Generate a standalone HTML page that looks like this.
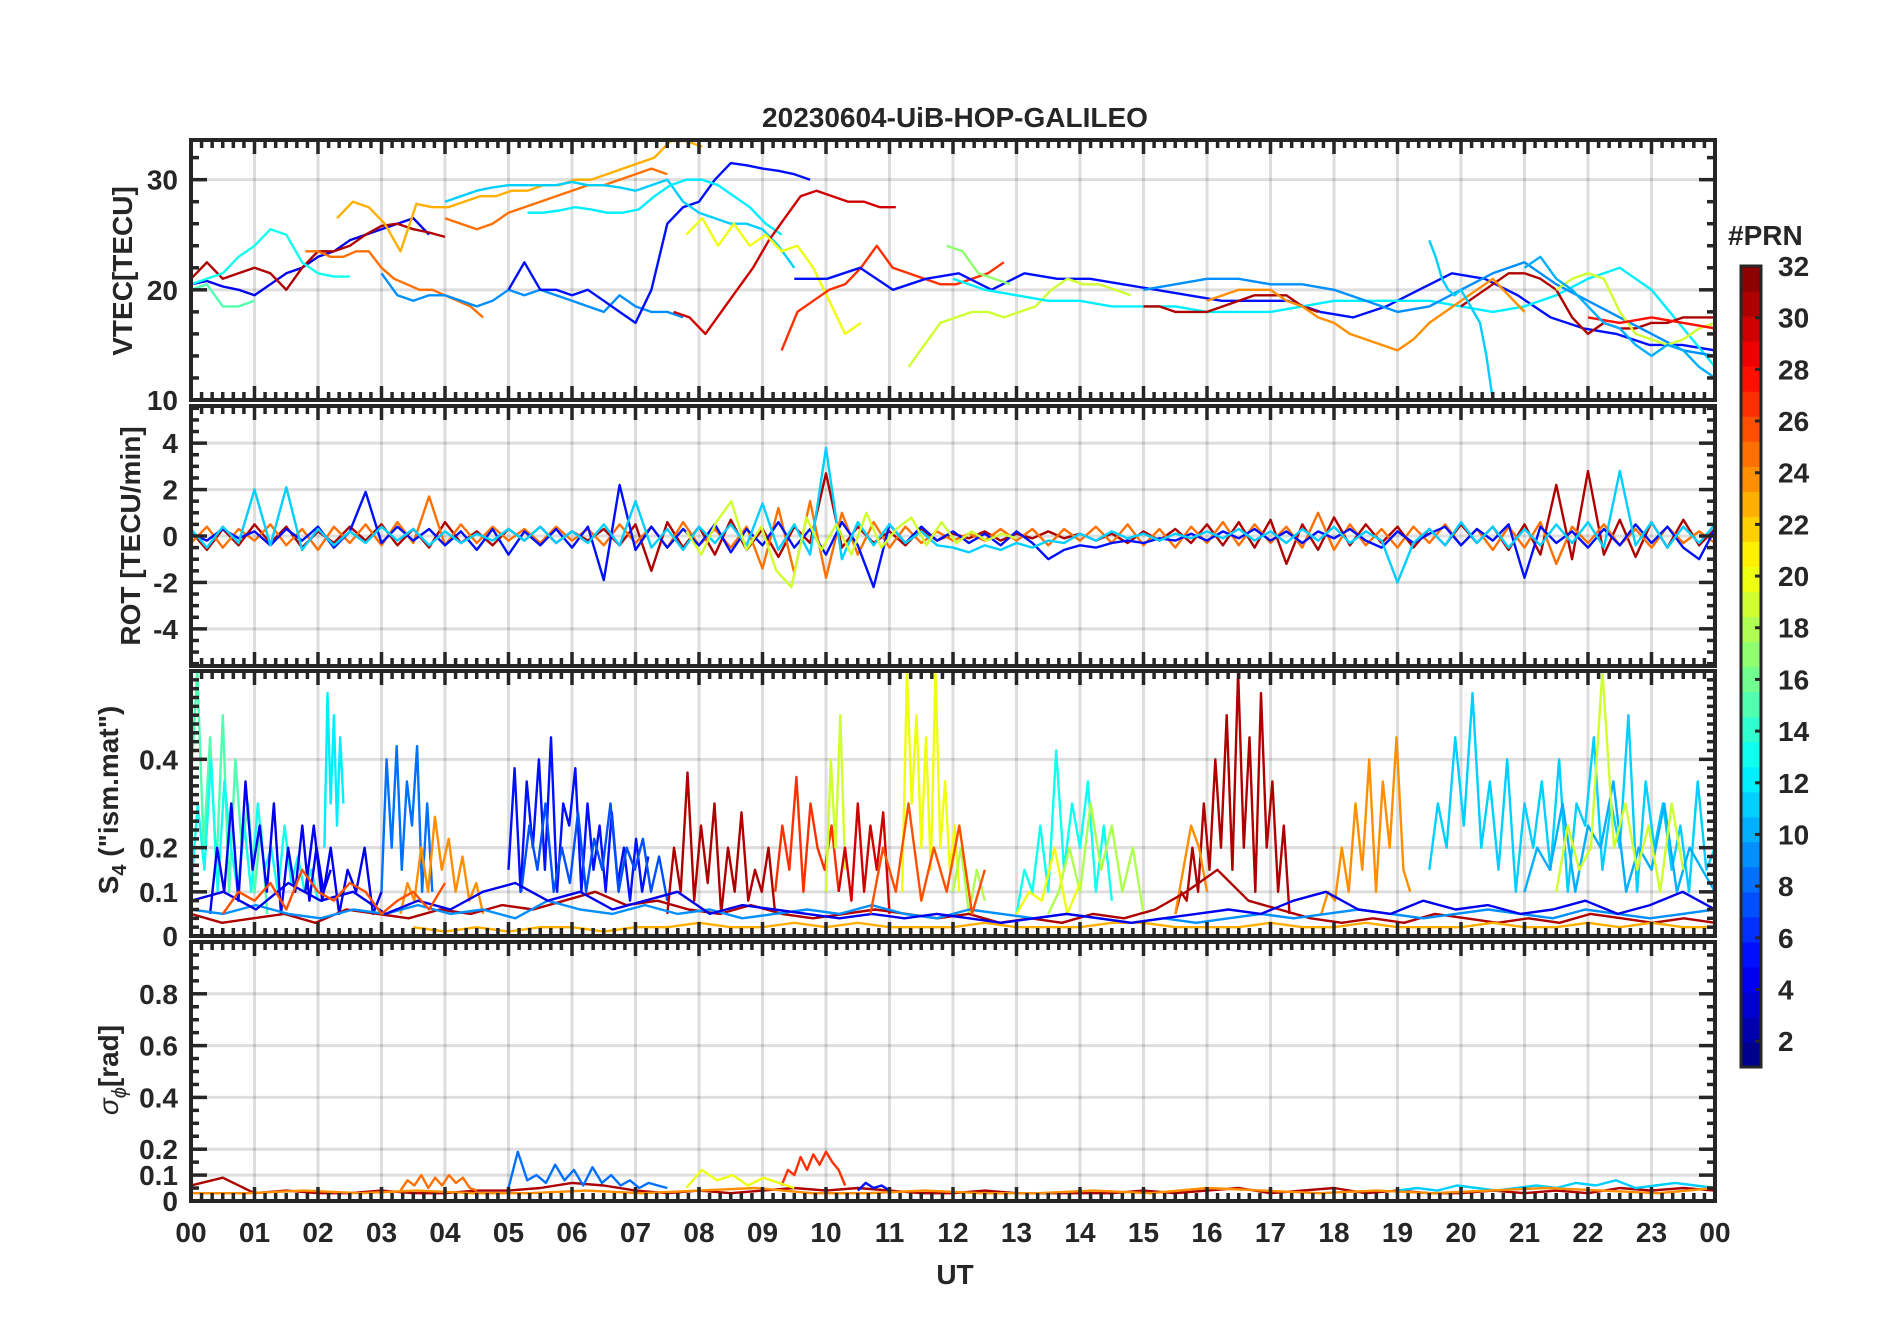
<!DOCTYPE html>
<html><head><meta charset="utf-8"><style>
html,body{margin:0;padding:0;background:#fff}
svg{display:block}
text{font-family:"Liberation Sans",sans-serif;font-weight:bold;fill:#262626}
</style></head><body>
<svg id="fig" width="1902" height="1330" viewBox="0 0 1902 1330" xmlns="http://www.w3.org/2000/svg">
<rect width="1902" height="1330" fill="#fff"/>
<text x="955" y="127" font-size="28" text-anchor="middle">20230604-UiB-HOP-GALILEO</text>
<text x="955" y="1284" font-size="28" text-anchor="middle">UT</text>
<text transform="translate(132,271) rotate(-90)" font-size="28" text-anchor="middle">VTEC[TECU]</text>
<text transform="translate(140,536) rotate(-90)" font-size="28" text-anchor="middle">ROT [TECU/min]</text>
<text transform="translate(118,800) rotate(-90)" font-size="28" text-anchor="middle">S<tspan font-size="20" dy="8">4</tspan><tspan dy="-8"> ("ism.mat")</tspan></text>
<text transform="translate(118,1070) rotate(-90)" font-size="28" text-anchor="middle"><tspan font-style="italic" font-weight="normal">σ</tspan><tspan font-size="20" dy="8" font-style="italic" font-weight="normal">ϕ</tspan><tspan dy="-8">[rad]</tspan></text>
<text x="1728" y="245" font-size="28">#PRN</text>
<g id="layer"></g>
</svg>
<script>
// ---------- axes geometry ----------
const L=191, R=1715;
const panels=[
 {name:'vtec',top:140,bot:400,min:10,max:33.6,labels:[10,20,30],minor:2},
 {name:'rot',top:406,bot:666,min:-5.6,max:5.6,labels:[-4,-2,0,2,4],minor:0.5},
 {name:'s4',top:671,bot:936,min:0,max:0.6,labels:[0,0.1,0.2,0.4],minor:0.02},
 {name:'sigma',top:942,bot:1201,min:0,max:1,labels:[0,0.1,0.2,0.4,0.6,0.8],minor:0.05}
];
const hourLabels=['00','01','02','03','04','05','06','07','08','09','10','11','12','13','14','15','16','17','18','19','20','21','22','23','00'];
const cbTicks=[2,4,6,8,10,12,14,16,18,20,22,24,26,28,30,32];

// ---------- VTEC data ----------
const vtecPrn=[4,31,13,15,23,25,25,9,5,11,12,30,20,27,5,19,17,12,31,31,24,9,19,11,28,10];
const vtecStart=[0,0,0,0,2.3,1.8,4,3,5,4,5.3,7.6,7.8,9.3,9.5,11.3,11.9,12,15,20,16,15,21.5,19.5,22,21];
const vtecEnd=[3.75,4.0,2.5,1.0,8.05,4.6,7.5,7.75,9.75,9.5,9.3,11.1,10.55,12.8,24,14.8,12.9,24,17.75,24,21,24,24.25,20.5,24,24];
const vtecVals=[
 [20.5,20.8,20.3,20,19.5,20.5,21.5,22,23,23.5,24.5,25,25.5,26,26.5,25],
 [21,22.5,21,21.5,22,21.5,20,22,23.5,23.5,24,25,25.8,26,25.5,25.2,24.8],
 [20.5,21,21.5,23,24,25.5,25,22.5,21.5,21.2,21.2],
 [20,20.5,18.5,18.5,19],
 [26.5,28,27.5,26,23.5,27.8,27.5,27.5,28,28.5,28.5,29,29,29.5,29.5,30,30,30.5,31,31.5,32,33.5,33.5,33],
 [23.5,23.5,23,23,23.5,23.5,22,21,20.5,20,20,19.5,19,18.5,17.5],
 [26.5,26,25.5,26,27,27.5,28,28.5,29,29.5,29.5,30,30.5,31,30.5],
 [21.5,19.5,19,19.5,19.5,19,18.5,19,20,19.5,20,19.5,19,18.5,18,19.5,18.5,18,18,17.5],
 [20,22.5,20,20,19.5,20,19,18,17,20,26,27.5,28,30,31.5,31.3,31,30.8,30.5,30],
 [28,28.5,29,29.3,29.5,29.5,29.5,29.5,29.8,29.5,29.5,29.3,29,29.5,30,28,27,26.5,26,26,25.5,24,22],
 [27,27,27.2,27.5,27.3,27,27,27.3,28.5,29.5,30,30,29.5,28.5,27.5,26,25],
 [18,17.5,16,18,20,22,24.5,26.5,28.5,29,28.5,28,28,27.5,27.5],
 [25,26.5,24,26,24,25,23.5,24,22,19,16,17],
 [14.5,18,19,20,20.5,22,24,22,21.5,21,20.5,20.5,21,21.5,22.5],
 [21,21,22,20,21,21.5,20,21.5,21,21,20.5,20,19.5,19,19,19,18,17.5,18.5,20,21.5,21,19.5,17.5,16.5,16,15,15,14.5],
 [13,15,17,17.5,18,18,17.5,18,18.5,20,21,20.5,20.5,20,19.5],
 [24,23.5,21.5,21,20.5],
 [21,20,19.5,19,19,18.5,18.5,18.5,18,18,18,18.5,19,19,19,19,18.5,18,18.5,19.5,21,22,20,16.5,13],
 [18.5,18.5,18,18,18,18.5,19,19.5,19.5,19.5,18.5,18],
 [18.5,19.5,20.5,21.5,21.5,21,20,17.5,16,17,16.5,16.5,17,17,17.5,17.5,17.5],
 [19,19.5,20,20,20,19,18.5,17.5,17,16,15.5,15,14.5,15.5,17,18,19,20,21,19.5,18],
 [20,20.5,21,21,20.5,20.5,20,19,18,18.5,20,21.5,22.5,20.5,19,17.5,16,14.5,14],
 [20,21,21.5,21,18,16,15.5,15,15.5,16.5,17,15.5],
 [24.5,23,21,20,19.5,20,19,18,17,14,10],
 [17.5,17,17.5,17,16.5],
 [22,23,21,20,18.5,17,16.5,15,14,15,14.5,13,12]
];

// ---------- ROT data ----------
const rotPrn=[31,25,5,11,19];
const rotStart=[0,0,0,0,7.8];
const rotEnd=[24,24,24,24,13];
const rotVals=[
 [0.2,-0.6,0.3,-0.4,0.5,-0.3,0.4,-0.5,0.2,-0.3,0.4,-0.2,0.5,-0.4,0.3,-0.5,0.6,-0.3,0.2,-0.4,0.3,-0.2,0.4,-0.3,0.2,-0.2,0.3,-0.4,0.5,-1.5,0.6,-0.5,0.4,-0.8,0.7,-0.6,0.3,-0.9,0.4,-0.3,2.7,-0.5,0.4,-0.3,0.2,-0.4,0.3,-0.2,0.1,-0.1,0.2,-0.2,0.1,-0.1,0.2,-0.1,0.1,-0.2,0.1,-0.3,0.2,-0.2,0.3,-0.3,0.5,-0.4,0.6,-0.5,0.7,-1.2,0.5,-0.6,0.8,-0.4,0.5,-0.3,0.4,-0.5,0.3,-0.4,0.5,-0.3,0.4,-0.6,0.5,-0.8,2.2,-1.0,2.8,-0.8,0.7,-0.9,0.6,-0.5,0.7,-0.4,0.3],
 [-0.3,0.4,-0.5,0.3,-0.2,0.5,-0.4,0.3,-0.6,0.4,-0.3,0.5,-0.4,0.6,-0.3,1.7,-0.4,0.5,-0.3,0.4,-0.2,0.3,-0.3,0.4,-0.2,0.3,-0.4,0.5,-0.3,0.4,-0.5,0.6,-0.4,0.3,-0.5,0.4,-1.4,1.2,-1.6,1.5,-1.8,1.0,-0.8,0.6,-0.5,0.4,-0.3,0.2,-0.2,0.1,-0.2,0.3,-0.2,0.3,-0.4,0.3,-0.2,0.4,-0.3,0.5,-0.4,0.3,-0.5,0.4,-0.3,0.6,-0.4,0.5,-0.3,0.4,-0.5,1.0,-0.6,0.5,-0.4,0.3,-0.5,0.4,-0.3,0.5,-0.4,0.3,-0.6,0.4,-0.5,0.6,-1.2,0.4,-0.3,0.5,-0.4,0.3,-0.5,0.4,-0.3,0.2,-0.3],
 [0.1,-0.2,0.3,-0.1,0.2,-0.4,0.3,-0.2,0.4,-0.5,0.2,1.9,-0.3,0.4,-0.2,0.3,-0.4,0.2,-0.6,0.3,-0.8,0.2,-0.4,0.3,-0.5,0.4,-1.9,2.2,-0.6,0.4,-0.5,0.3,-0.4,0.5,-0.7,0.3,-0.4,0.6,-0.5,0.3,-0.8,0.6,-0.4,-2.2,0.5,-0.3,0.4,-0.2,0.2,-0.3,0.1,-0.4,0.2,-0.3,-1.0,-0.6,-0.4,-0.5,-0.3,-0.2,-0.3,-0.1,-0.2,0.1,-0.2,0.2,-0.1,0.3,-0.2,0.2,-0.3,0.2,-0.1,0.3,-0.2,-0.5,0.2,-0.3,0.1,0.4,-0.4,0.3,-0.2,0.5,-1.8,0.4,-0.3,0.2,-0.5,0.3,-0.4,0.5,-0.3,0.4,-0.5,-1.0,0.3],
 [0.3,-0.5,0.4,-0.3,2.0,-0.4,2.1,-0.6,0.3,-0.4,0.2,-0.3,0.4,-0.2,0.3,-0.4,0.2,-0.3,0.1,-0.2,0.3,-0.2,0.4,-0.3,0.2,-0.3,0.5,-0.4,1.5,-0.5,0.3,-0.6,0.4,-0.3,0.5,-0.4,1.4,-0.6,0.5,-0.8,3.8,-1.0,0.6,-0.4,0.5,-0.3,0.2,-0.4,-0.5,-0.7,-0.4,-0.6,-0.3,-0.5,-0.2,-0.3,0.1,-0.2,0.2,-0.1,0.1,-0.2,0.1,-0.1,0.2,-0.1,0.3,-0.2,0.2,-0.3,0.3,-0.2,0.4,-0.3,0.2,-0.2,-2.0,-0.3,0.3,-0.4,0.6,-0.3,0.4,-0.5,0.3,-0.4,0.5,-0.3,0.6,-0.5,2.8,-0.4,0.6,-0.5,0.4,-0.3,0.5],
 [0.2,-0.8,0.6,1.5,-0.6,0.4,-1.5,-2.2,0.8,-0.6,0.5,-0.8,1.0,-0.5,0.3,0.8,-0.4,0.6,-0.3,0.2,-0.2,0.1,-0.1]
];

// ---------- S4 data ----------
const s4Prn=[15,13,4,12,4,8,24,5,7,31,27,19,30,20,18,13,18,20,31,24,24,11,10,19,31,23,9,4,26,26];
const s4Start=[0,0,0.3,2.1,1.8,3,3.3,5,5.2,7.5,9.2,10,10.2,11.2,12,13,13.5,13,15.5,15.5,17.8,19.5,21,21.5,0,3.5,0,0,0.5,10.7];
const s4End=[1.2,2,2.2,2.4,3,3.8,4.6,7.2,7.5,9.2,10.2,10.3,11,12.1,12.5,14.5,15,14,17.3,16,19.2,24,24,23.5,24,24,24,24,4,12.5];
const s4Vals=[
 [0.35,0.6,0.2,0.45,0.15,0.5,0.1,0.4,0.2,0.3,0.1,0.25,0.05],
 [0.1,0.3,0.15,0.4,0.1,0.35,0.2,0.1,0.25,0.1,0.3,0.15,0.2,0.1,0.25,0.12,0.18,0.1,0.15,0.08],
 [0.05,0.2,0.1,0.3,0.08,0.35,0.15,0.25,0.1,0.3,0.05,0.2,0.1,0.25,0.08,0.2,0.1,0.15],
 [0.2,0.55,0.3,0.5,0.25,0.45,0.3],
 [0.1,0.25,0.08,0.2,0.05,0.15,0.1,0.2,0.05,0.1],
 [0.1,0.4,0.2,0.43,0.15,0.35,0.25,0.43,0.1,0.3,0.1],
 [0.05,0.12,0.08,0.2,0.1,0.27,0.15,0.22,0.1,0.18,0.08,0.12,0.05],
 [0.15,0.38,0.1,0.35,0.2,0.4,0.15,0.45,0.1,0.3,0.25,0.38,0.1,0.3,0.15,0.25,0.1,0.28,0.12,0.2,0.08,0.22,0.1,0.18],
 [0.1,0.25,0.15,0.3,0.1,0.2,0.12,0.28,0.1,0.22,0.15,0.3,0.1,0.2,0.15,0.22,0.1,0.18,0.08],
 [0.05,0.2,0.1,0.37,0.08,0.25,0.12,0.3,0.05,0.2,0.1,0.28,0.08,0.15,0.1,0.2,0.05],
 [0.1,0.25,0.15,0.36,0.1,0.3,0.2,0.15,0.25,0.1],
 [0.1,0.4,0.2,0.5,0.15],
 [0.1,0.2,0.08,0.3,0.1,0.25,0.15,0.28,0.05],
 [0.1,0.6,0.3,0.5,0.2,0.45,0.15,0.6,0.2,0.35,0.15,0.25,0.1],
 [0.1,0.2,0.05,0.15,0.08],
 [0.05,0.15,0.1,0.25,0.1,0.42,0.15,0.3,0.2,0.35,0.1,0.25,0.08],
 [0.05,0.1,0.2,0.1,0.3,0.15,0.25,0.1,0.2,0.05],
 [0.05,0.1,0.08,0.2,0.05,0.12],
 [0.05,0.1,0.08,0.2,0.1,0.3,0.15,0.4,0.2,0.5,0.15,0.6,0.2,0.45,0.1,0.55,0.2,0.35,0.1,0.25,0.05],
 [0.05,0.15,0.25,0.2,0.1],
 [0.05,0.1,0.08,0.2,0.1,0.3,0.15,0.4,0.1,0.35,0.2,0.45,0.15,0.1],
 [0.15,0.3,0.2,0.45,0.25,0.55,0.2,0.35,0.15,0.4,0.1,0.3,0.2,0.35,0.15,0.4,0.1,0.3,0.25,0.45,0.15,0.3,0.2,0.5,0.1,0.35,0.2,0.3,0.15,0.25,0.1,0.35,0.15,0.2],
 [0.1,0.2,0.15,0.3,0.1,0.25,0.2,0.35,0.1,0.2,0.15,0.3,0.1,0.2,0.15,0.1],
 [0.1,0.25,0.15,0.2,0.6,0.2,0.3,0.15,0.25,0.1,0.3,0.15],
 [0.05,0.03,0.04,0.05,0.03,0.06,0.05,0.04,0.06,0.05,0.07,0.06,0.08,0.1,0.07,0.08,0.06,0.05,0.07,0.05,0.04,0.05,0.06,0.05,0.04,0.05,0.03,0.04,0.03,0.05,0.04,0.06,0.1,0.15,0.08,0.06,0.04,0.03,0.04,0.03,0.05,0.04,0.03,0.04,0.03,0.05,0.04,0.03,0.04,0.03],
 [0.02,0.01,0.02,0.01,0.02,0.02,0.01,0.02,0.02,0.03,0.02,0.02,0.03,0.02,0.03,0.02,0.02,0.02,0.03,0.02,0.02,0.02,0.03,0.03,0.02,0.02,0.02,0.03,0.02,0.02,0.03,0.02,0.02,0.02,0.03,0.02,0.02,0.03,0.02,0.03,0.02,0.02],
 [0.06,0.05,0.07,0.05,0.04,0.06,0.05,0.07,0.05,0.06,0.04,0.08,0.06,0.05,0.07,0.05,0.06,0.04,0.05,0.06,0.05,0.07,0.05,0.04,0.06,0.05,0.04,0.05,0.04,0.03,0.04,0.03,0.04,0.05,0.04,0.05,0.06,0.05,0.04,0.05,0.06,0.05,0.04,0.06,0.05,0.04,0.05,0.06],
 [0.08,0.1,0.06,0.12,0.08,0.1,0.05,0.08,0.06,0.1,0.12,0.08,0.1,0.06,0.08,0.1,0.05,0.07,0.06,0.05,0.04,0.05,0.04,0.05,0.04,0.03,0.04,0.05,0.04,0.03,0.04,0.05,0.06,0.05,0.08,0.1,0.06,0.05,0.08,0.06,0.07,0.05,0.06,0.08,0.05,0.07,0.1,0.06],
 [0.05,0.1,0.08,0.12,0.06,0.15,0.1,0.08,0.12,0.1,0.05,0.08,0.1,0.06,0.12],
 [0.05,0.2,0.1,0.3,0.08,0.2,0.1,0.25,0.05,0.15]
];

// ---------- sigma-phi data ----------
const sigPrn=[31,25,8,27,20,11,24,5];
const sigStart=[0,3.3,5,9.3,7.8,19,0,10.5];
const sigEnd=[24,4.5,7.5,10.3,9.5,24,24,11];
const sigVals=[
 [0.06,0.09,0.03,0.04,0.03,0.03,0.04,0.03,0.03,0.04,0.04,0.05,0.07,0.06,0.04,0.03,0.04,0.03,0.04,0.05,0.04,0.05,0.04,0.03,0.03,0.04,0.03,0.03,0.03,0.03,0.04,0.03,0.04,0.05,0.03,0.04,0.05,0.03,0.04,0.03,0.03,0.04,0.03,0.04,0.03,0.05,0.04,0.05,0.04],
 [0.04,0.08,0.06,0.1,0.05,0.09,0.06,0.1,0.07,0.09,0.05,0.04],
 [0.05,0.19,0.08,0.1,0.07,0.14,0.08,0.12,0.06,0.13,0.07,0.1,0.06,0.08,0.05,0.07,0.06,0.05],
 [0.06,0.12,0.1,0.17,0.12,0.18,0.14,0.19,0.15,0.12,0.06],
 [0.05,0.12,0.08,0.1,0.06,0.09,0.07,0.05],
 [0.04,0.05,0.04,0.06,0.05,0.04,0.05,0.06,0.05,0.07,0.06,0.08,0.05,0.06,0.07,0.06,0.05],
 [0.03,0.03,0.04,0.03,0.04,0.03,0.03,0.04,0.03,0.04,0.05,0.03,0.03,0.04,0.03,0.03,0.04,0.03,0.05,0.04,0.03,0.04,0.03,0.04,0.05,0.04,0.03,0.05],
 [0.04,0.07,0.05,0.06,0.04]
];

const NS='http://www.w3.org/2000/svg';
const layer=document.getElementById('layer');
function mk(tag,attrs,parent){const e=document.createElementNS(NS,tag);for(const k in attrs)e.setAttribute(k,attrs[k]);(parent||layer).appendChild(e);return e;}
function xScale(t){return L+t*(R-L)/24;}
function yScale(p,v){return p.bot-(v-p.min)*(p.bot-p.top)/(p.max-p.min);}
function jet(prn){const v=(prn-0.5)/32;const c=x=>Math.round(255*Math.max(0,Math.min(1,1.5-Math.abs(x))));return `rgb(${c(4*v-3)},${c(4*v-2)},${c(4*v-1)})`;}
const AX='#262626';

const defs=mk('defs',{});
panels.forEach((p,i)=>{
  const cp=mk('clipPath',{id:'clip'+i},defs);
  mk('rect',{x:L,y:p.top,width:R-L,height:p.bot-p.top},cp);
});

function drawSeries(pi,prns,starts,ends,vals,nameBase){
  const p=panels[pi];
  const g=mk('g',{'clip-path':`url(#clip${pi})`});
  
  
  vals.forEach((arr,k)=>{
    const n=arr.length;const dt=(ends[k]-starts[k])/Math.max(1,n-1);
    const pts=arr.map((v,j)=>xScale(starts[k]+j*dt).toFixed(1)+','+yScale(p,v).toFixed(1)).join(' ');
    const pl=mk('polyline',{points:pts,fill:'none',stroke:jet(prns[k]),'stroke-width':2.4,'stroke-linejoin':'round'},g);
    
    
  });
}

// grid
panels.forEach((p,i)=>{
  const g=mk('g',{stroke:'#000','stroke-opacity':0.13,'stroke-width':3});
  
  
  for(let h=1;h<24;h++){mk('line',{x1:xScale(h),x2:xScale(h),y1:p.top,y2:p.bot},g);}
  p.labels.forEach(v=>{const y=yScale(p,v);if(y>p.top+3&&y<p.bot-3)mk('line',{x1:L,x2:R,y1:y,y2:y},g);});
});

drawSeries(0,vtecPrn,vtecStart,vtecEnd,vtecVals,'vtec');
drawSeries(1,rotPrn,rotStart,rotEnd,rotVals,'rot');
drawSeries(2,s4Prn,s4Start,s4End,s4Vals,'s4');
drawSeries(3,sigPrn,sigStart,sigEnd,sigVals,'sigma');

// axes boxes & ticks
panels.forEach((p,i)=>{
  const g=mk('g',{stroke:AX,'stroke-width':4});
  
  
  mk('rect',{x:L,y:p.top,width:R-L,height:p.bot-p.top,fill:'none'},g);
  for(let m=0;m<=144;m++){
    const x=xScale(m/6);const len=(m%6===0)?14:8;
    mk('line',{x1:x,x2:x,y1:p.bot,y2:p.bot-len,'stroke-width':3.5},g);
    mk('line',{x1:x,x2:x,y1:p.top,y2:p.top+len,'stroke-width':3.5},g);
  }
  const nMin=Math.round((p.max-p.min)/p.minor);
  const start=Math.ceil(p.min/p.minor-1e-6);
  for(let k=start;k*p.minor<=p.max+1e-9;k++){
    const v=k*p.minor;const y=yScale(p,v);
    const major=p.labels.some(l=>Math.abs(l-v)<1e-6);
    const len=major?16:8;
    mk('line',{x1:L,x2:L+len,y1:y,y2:y,'stroke-width':3.5},g);
    mk('line',{x1:R,x2:R-len,y1:y,y2:y,'stroke-width':3.5},g);
  }
  p.labels.forEach(v=>{
    const t=mk('text',{x:178,y:yScale(p,v)+10,'font-size':28,'text-anchor':'end'});
    t.textContent=String(v);
    
    
  });
});

// x tick labels
hourLabels.forEach((s,h)=>{
  const t=mk('text',{x:xScale(h),y:1242,'font-size':28,'text-anchor':'middle'});
  t.textContent=s;
  
  
});

// colorbar
const cbTop=266,cbBot=1067,cbL=1741,cbW=20;
const cb=mk('g',{});


const cellH=(cbBot-cbTop)/32;
for(let prn=1;prn<=32;prn++){
  mk('rect',{x:cbL,y:cbBot-prn*cellH,width:cbW,height:cellH+0.6,fill:jet(prn)},cb);
}
mk('rect',{x:cbL,y:cbTop,width:cbW,height:cbBot-cbTop,fill:'none',stroke:AX,'stroke-width':3},cb);
function cbY(v){return cbBot-(v-1)*(cbBot-cbTop)/31;}
cbTicks.forEach(v=>{
  const y=cbY(v);
  mk('line',{x1:cbL+cbW,x2:cbL+cbW-6,y1:y,y2:y,stroke:AX,'stroke-width':3},cb);
  const t=mk('text',{x:1778,y:y+10,'font-size':28},cb);
  t.textContent=String(v);
  
  
});
</script>
</body></html>
